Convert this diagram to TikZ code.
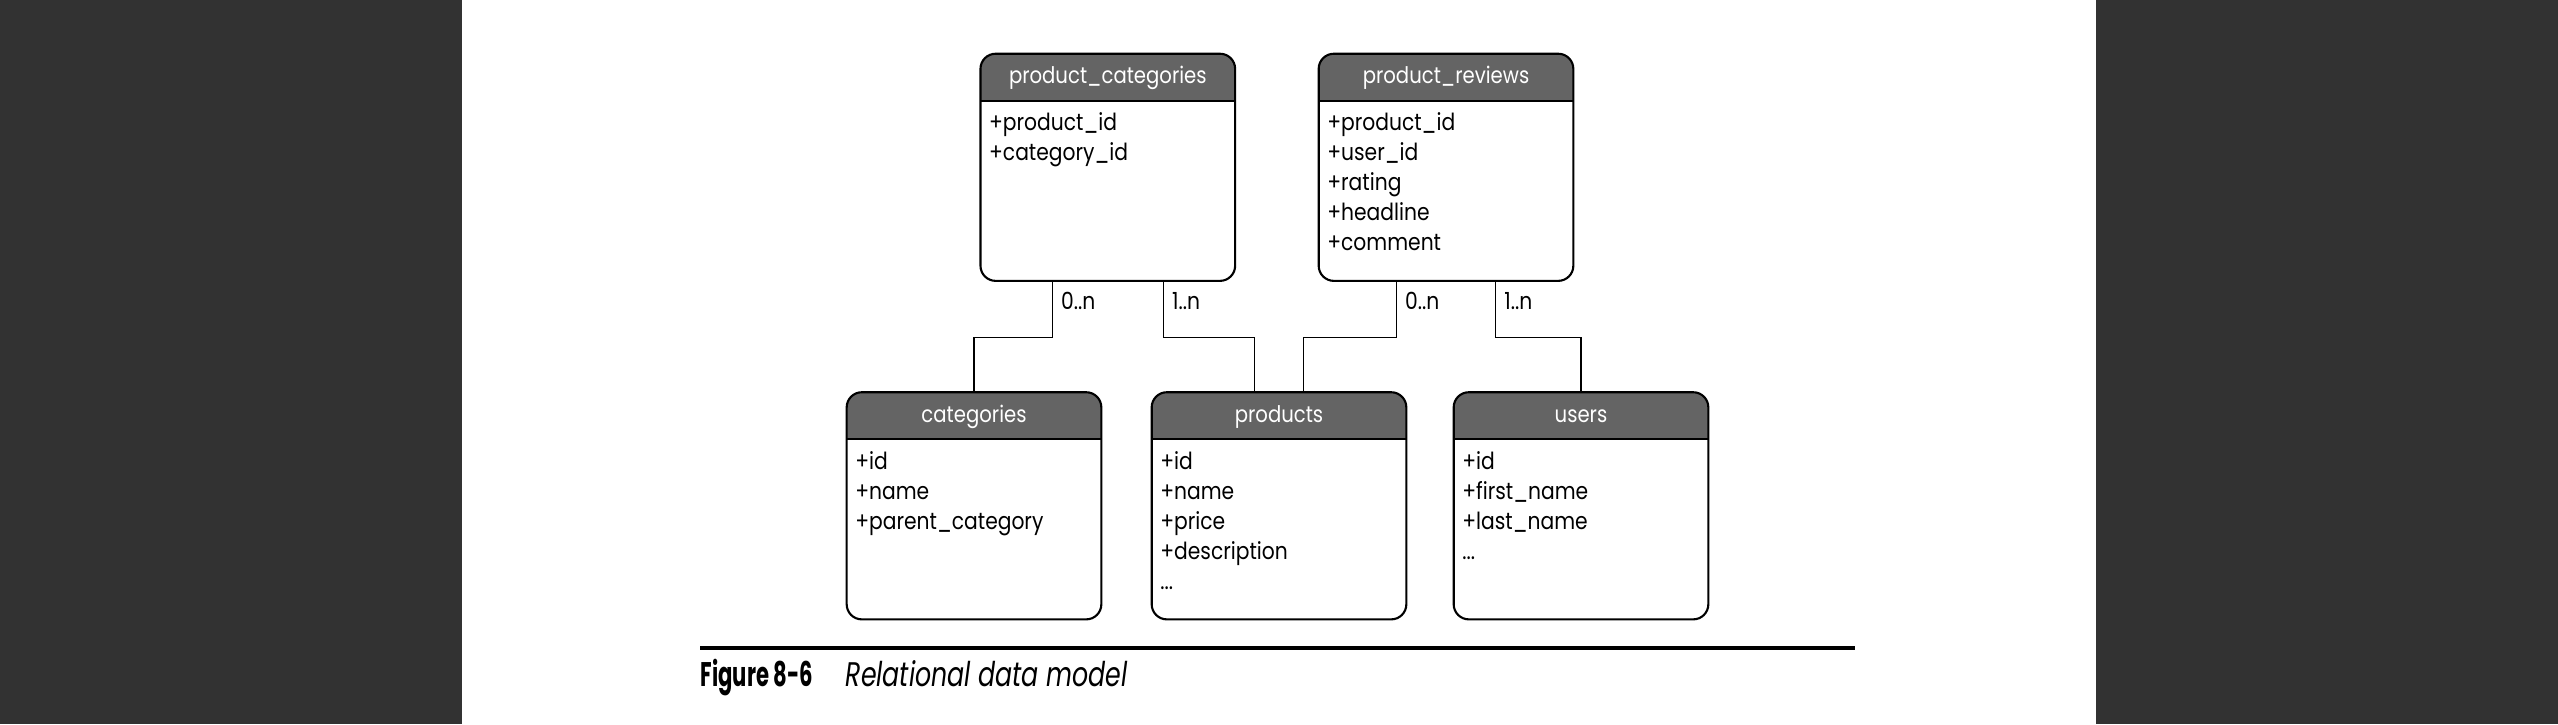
\documentclass[tikz,border=0pt]{standalone}
\usepackage{fontspec}
\newfontfamily\tblfont{Poppins}[FakeStretch=0.86]
\newfontfamily\capfont{Poppins}[FakeStretch=0.74]
\newfontfamily\figfont{Poppins}[FakeStretch=0.62]
\usetikzlibrary{calc}
\definecolor{band}{HTML}{323232}
\definecolor{hdrgray}{HTML}{646464}

\begin{document}
\begin{tikzpicture}[x=0.01cm, y=-0.01cm,
  tbl/.style={draw, line width=0.6pt, fill=white, rounded corners=4.3pt, inner sep=0pt,
    minimum width=2.545cm, minimum height=2.27cm,
    path picture={
      \fill[hdrgray, sharp corners] (path picture bounding box.north west) rectangle ([yshift=-0.47cm]path picture bounding box.north east);
      \draw[line width=0.6pt, sharp corners] ([yshift=-0.47cm]path picture bounding box.north west) -- ([yshift=-0.47cm]path picture bounding box.north east);}},
  ttl/.style={text=white, anchor=base, inner sep=0pt, font=\tblfont\fontsize{6.5}{8}\selectfont},
  row/.style={anchor=base west, inner sep=0pt, font=\tblfont\fontsize{6.7}{8}\selectfont},
  link/.style={line width=0.45pt},
  card/.style={anchor=west, inner sep=0pt, xshift=0.08cm, font=\tblfont\fontsize{6.7}{8}\selectfont}]
  \useasboundingbox (0,0) rectangle (2558,724);
  \fill[white] (0,0) rectangle (2558,724);
  \fill[band] (0,0) rectangle (462,724);
  \fill[band] (2096,0) rectangle (2558,724);

  % tables
  \foreach \id/\x/\y/\ttl in {prodcat/1107.8/167.3/product\_categories, prodrev/1446/167.3/product\_reviews,
      cat/974/505.8/categories, prod/1279/505.8/products, users/1581/505.8/users}
  {
    \node[tbl] (\id) at (\x,\y) {};
    \node[ttl] (\id-title) at ($(\id.north)+(0,31)$) {\ttl};
  }
  \foreach \r [count=\i] in {+product\_id,+category\_id}
    \node[row] (prodcat-\i) at ($(prodcat.north west)+(9,48+30*\i)$) {\r};
  \foreach \r [count=\i] in {+product\_id,+user\_id,+rating,+headline,+comment}
    \node[row] (prodrev-\i) at ($(prodrev.north west)+(9,48+30*\i)$) {\r};
  \foreach \r [count=\i] in {+id,+name,+parent\_category}
    \node[row] (cat-\i) at ($(cat.north west)+(9,48+30*\i)$) {\r};
  \foreach \r [count=\i] in {+id,+name,+price,+description,{.{}.{}.}}
    \node[row] (prod-\i) at ($(prod.north west)+(9,48+30*\i)$) {\r};
  \foreach \r [count=\i] in {+id,+first\_name,+last\_name,{.{}.{}.}}
    \node[row] (users-\i) at ($(users.north west)+(9,48+30*\i)$) {\r};

  % links
  \draw[link] ($(prodcat.south)+(-55.5,0)$) -- node[card, pos=0.35] (c1) {0..n} ++(0,55.4) -| (cat.north);
  \draw[link] ($(prodcat.south)+(55.5,0)$) -- node[card, pos=0.35] (c2) {1..n} ++(0,55.4) -| ($(prod.north)+(-24.5,0)$);
  \draw[link] ($(prodrev.south)+(-49.6,0)$) -- node[card, pos=0.35] (c3) {0..n} ++(0,55.4) -| ($(prod.north)+(24.5,0)$);
  \draw[link] ($(prodrev.south)+(49.6,0)$) -- node[card, pos=0.35] (c4) {1..n} ++(0,55.4) -| (users.north);

  % caption
  \draw[line width=1.1pt] (700,648) -- (1855,648);
  \node[anchor=base west, inner sep=0pt, font=\figfont\bfseries\fontsize{9.7}{11}\selectfont] (fignum) at (700,686) {Figure 8-6};
  \node[anchor=base west, inner sep=0pt, font=\capfont\itshape\fontsize{9.7}{11}\selectfont] (figcap) at (845,686) {Relational data model};
\end{tikzpicture}
\end{document}
